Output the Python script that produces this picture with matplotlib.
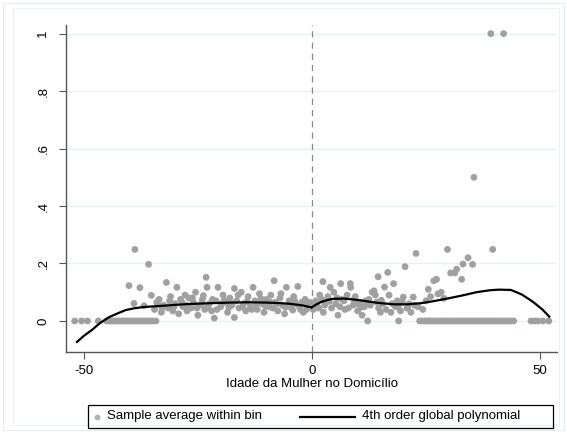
import matplotlib
matplotlib.use('Agg')
import matplotlib.pyplot as plt
from matplotlib.lines import Line2D
from matplotlib.patches import Rectangle

plt.rcParams['font.family'] = ['Liberation Sans', 'DejaVu Sans']

# binned sample averages
bin_x = [-52, -50.5, -49.2, -46.8, -45, -44.5, -44, -43.5, -43, -42.5, -42, -41.5,
         -41, -40.5, -40, -39.5, -39, -38.5, -38, -37.5, -37, -36.5, -36, -35.5,
         -35, -34.2,
         -40.1, -38.8, -39, -37.7, -36.8, -35.8, -35.2,
         -34.5, -34, -33.5, -33, -32.5, -31.9, -31.5, -31, -30.5, -30, -29.6, -29.2,
         -28.8, -28.3, -27.8, -27.4,
         -27, -26.5, -26, -25.5, -25, -24.5, -24, -23.5, -23.2, -23, -22.5, -22,
         -21.4, -21, -20.6, -20, -19.5, -19, -18.5, -18, -17.5, -17, -17, -16.5,
         -16, -15.5, -15, -14.5, -14, -13.5, -12.9, -12.5, -12, -11.5, -11, -10.5,
         -10, -9.5, -9, -8.3, -8, -7.5, -7, -6.5, -6, -5.6, -5, -4.5, -4, -3.5,
         -3.1, -2.5, -1.9, -1.5, -1, -0.5,
         -33.8, -32.8, -31.2, -30.2, -28.5, -27.6, -26.2, -25.2, -24.2, -23.8,
         -22.8, -21.8, -20.8, -19.8, -19.2, -18.2, -17.8, -16.2, -15.2, -14.2,
         -13.2, -12.2, -11.2, -10.2, -9.2, -8.6, -7.8, -6.8, -5.8, -4.8, -4.2,
         -3.8, -2.8, -2.2, -1.2, -0.3,
         0.3, 0.8, 1.2, 1.7, 2.4, 2.5, 3, 3.5, 4, 4.3, 4.8, 5.2, 5.7, 6.3, 6.6,
         7.2, 7.7, 8.4, 8.5, 9, 9.5, 10, 10.5, 11, 11.5, 12.2, 12.5, 13.2, 13.6,
         13.9, 14.5, 14.6, 15, 15.5, 15.9, 16.6, 16.9, 17.3, 17.9, 18.3, 18.7, 19,
         19.4, 20, 20.4, 20.8, 21.3, 21.7, 22.2, 22.8, 23.2,
         0.6, 1.5, 2.1, 2.8, 3.8, 5.5, 6.1, 7, 8, 9.2, 9.8, 10.8, 11.8, 12.8,
         14.2, 15.2, 16.2, 17.6, 18.9, 19.8, 21, 22.5,
         23.6, 24.1, 24.6, 25.1, 25.6, 26.1, 26.6, 27.1, 27.6, 28.1, 28.6, 29.1,
         29.6, 30.1, 30.6, 31.1, 31.6, 32.1, 32.6, 33.1, 33.6, 34.1, 34.6, 35.1,
         35.6, 36.1, 36.6, 37.1, 37.6, 38.1, 38.6, 39.1, 39.6, 40.1, 40.6, 41.1,
         41.6, 42.1, 42.6, 43.1, 43.6, 44.2, 48, 48.8, 49.5, 50.6, 51.9,
         24.3, 25, 25.5, 26, 26.7, 27.3, 27.6, 28.3, 28.9, 29.7, 30.4, 31.3, 31.7,
         32.8, 33.1, 34.2, 35.2, 35.5, 39.6, 39.2, 42]
bin_y = [0, 0, 0, 0, 0, 0, 0, 0, 0, 0, 0, 0,
         0, 0, 0, 0, 0, 0, 0, 0, 0, 0, 0, 0,
         0, 0,
         0.123, 0.249, 0.061, 0.116, 0.053, 0.197, 0.089,
         0.04, 0.065, 0.075, 0.03, 0.055, 0.134, 0.045, 0.085, 0.035, 0.06, 0.117, 0.025,
         0.075, 0.05, 0.09, 0.035,
         0.08, 0.045, 0.065, 0.1, 0.02, 0.055, 0.075, 0.04, 0.152, 0.117, 0.06, 0.035,
         0.01, 0.07, 0.117, 0.05, 0.09, 0.065, 0.03, 0.08, 0.055, 0.113, 0.012, 0.07,
         0.045, 0.1, 0.06, 0.035, 0.085, 0.05, 0.117, 0.07, 0.04, 0.095, 0.06, 0.03,
         0.075, 0.05, 0.09, 0.14, 0.065, 0.035, 0.08, 0.055, 0.025, 0.117, 0.07, 0.045, 0.085, 0.06,
         0.12, 0.04, 0.03, 0.075, 0.055, 0.065,
         0.058, 0.045, 0.07, 0.05, 0.065, 0.055, 0.08, 0.045, 0.06, 0.088,
         0.05, 0.075, 0.04, 0.06, 0.072, 0.048, 0.062, 0.09, 0.05, 0.068,
         0.04, 0.058, 0.078, 0.052, 0.066, 0.045, 0.058, 0.095, 0.048, 0.062, 0.038,
         0.07, 0.05, 0.065, 0.04, 0.058,
         0.04, 0.07, 0.05, 0.09, 0.137, 0.03, 0.065, 0.085, 0.117, 0.045, 0.1, 0.06, 0.02, 0.13, 0.075,
         0.04, 0.09, 0.13, 0.117, 0.055, 0.085, 0.035, 0.065, 0.02, 0.05, 0.0, 0.075, 0.1, 0.105,
         0.09, 0.154, 0.045, 0.03, 0.06, 0.118, 0.169, 0.09, 0.03, 0.13, 0.05, 0.07, 0.0,
         0.035, 0.083, 0.189, 0.045, 0.06, 0.03, 0.083, 0.235, 0.05,
         0.06, 0.045, 0.075, 0.055, 0.068, 0.08, 0.05, 0.07, 0.045, 0.075, 0.06, 0.048, 0.07, 0.055,
         0.065, 0.072, 0.04, 0.06, 0.05, 0.065, 0.045, 0.055,
         0, 0, 0, 0, 0, 0, 0, 0, 0, 0, 0, 0,
         0, 0, 0, 0, 0, 0, 0, 0, 0, 0, 0, 0,
         0, 0, 0, 0, 0, 0, 0, 0, 0, 0, 0, 0,
         0, 0, 0, 0, 0, 0, 0, 0, 0, 0, 0,
         0.04, 0.07, 0.11, 0.085, 0.14, 0.145, 0.094, 0.1, 0.079, 0.249, 0.167, 0.167, 0.18,
         0.145, 0.198, 0.22, 0.197, 0.5, 0.249, 1.0, 1.0]

# fitted 4th order polynomial, each side of the cutoff
fit_left_x = [-51.5, -50, -48.2, -46.5, -44.5, -42.5, -40.8, -39, -37.2, -35.5, -33.5,
              -30, -27, -22, -18, -14, -10, -7, -5, -3, -2, -0.1]
fit_left_y = [-0.073, -0.052, -0.031, -0.008, 0.013, 0.027, 0.038, 0.044, 0.048, 0.05, 0.052,
              0.056, 0.059, 0.062, 0.064, 0.065, 0.064, 0.062, 0.06, 0.056, 0.054, 0.047]
fit_right_x = [0, 1, 2, 3.2, 4.5, 7, 9, 11, 13, 15, 18, 21, 24, 27, 30, 33.3, 36, 39,
               41, 43.6, 46, 48.4, 50.5, 52]
fit_right_y = [0.048, 0.058, 0.066, 0.072, 0.077, 0.078, 0.075, 0.071, 0.066, 0.062, 0.058,
               0.058, 0.062, 0.07, 0.079, 0.09, 0.1, 0.107, 0.109, 0.108, 0.092, 0.067, 0.04, 0.015]

W, H = 567, 433
fig = plt.figure(figsize=(W / 100, H / 100), dpi=100)

# faint stata-like frames
fig.patches.append(Rectangle((3 / W, 3 / H), 561 / W, 427 / H, transform=fig.transFigure,
                             fill=False, ec='#e6ebee', lw=0.8))
fig.patches.append(Rectangle((13 / W, 8 / H), 546 / W, 417 / H, transform=fig.transFigure,
                             fill=False, ec='#eef2f4', lw=0.8))

ax = fig.add_axes([66 / W, 1 - 352 / H, (557 - 66) / W, (352 - 25) / H])
ax.set_xlim(-53.9, 53.7)
ax.set_ylim(-0.108, 1.03)

ax.set_yticks([0, 0.2, 0.4, 0.6, 0.8, 1])
ax.set_yticklabels(['0', '.2', '.4', '.6', '.8', '1'], rotation=90, va='center')
ax.set_xticks([-50, 0, 50])
ax.set_xticklabels(['-50', '0', '50'])
ax.grid(axis='y', color='#e9f0f2', lw=1.0)
ax.set_axisbelow(True)
for s in ['top', 'right']:
    ax.spines[s].set_visible(False)
for s in ['left', 'bottom']:
    ax.spines[s].set_color('#555555')
    ax.spines[s].set_linewidth(1.0)
ax.tick_params(direction='out', length=5, color='#555555', labelsize=9.5, pad=4)
ax.tick_params(axis='y', pad=7)

ax.axvline(0, color='#888888', lw=0.9, dashes=(5, 4), zorder=1)
ax.scatter(bin_x, bin_y, s=24, color='#a0a0a0', edgecolors='none', zorder=2)
ax.plot(fit_left_x, fit_left_y, color='black', lw=1.6, zorder=3)
ax.plot(fit_right_x, fit_right_y, color='black', lw=1.6, zorder=3)

ax.set_xlabel('Idade da Mulher no Domicílio', fontsize=9.5, labelpad=1)

# legend box
fig.patches.append(Rectangle((88 / W, 1 - 428 / H), (553 - 88) / W, 23 / H,
                             transform=fig.transFigure, fill=False, ec='black', lw=0.9))
ly = 1 - 416.5 / H
fig.lines.append(Line2D([97 / W], [ly], marker='o', ms=3.2, color='#b0b0b0', ls='',
                        transform=fig.transFigure))
fig.text(107 / W, ly, 'Sample average within bin', fontsize=9.5, va='center')
fig.lines.append(Line2D([300 / W, 355 / W], [ly, ly], color='black', lw=1.6,
                        transform=fig.transFigure))
fig.text(362 / W, ly, '4th order global polynomial', fontsize=9.5, va='center')

fig.savefig('out.png', dpi=100)
